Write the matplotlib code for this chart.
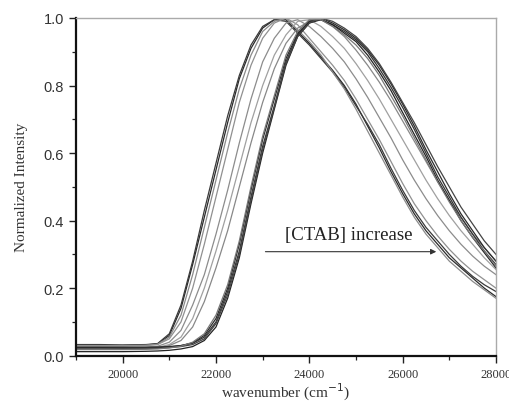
import matplotlib
matplotlib.use("Agg")
import matplotlib.pyplot as plt
from matplotlib.ticker import MultipleLocator, FormatStrFormatter

wavenumber = [19000, 19500, 20000, 20500, 20750, 21000, 21250, 21500, 21750, 22000,
              22250, 22500, 22750, 23000, 23250, 23500, 23750, 24000, 24250, 24500,
              24750, 25000, 25250, 25500, 25750, 26000, 26250, 26500, 26750, 27000,
              27250, 27500, 27750, 28000]

s01 = [.030, .030, .030, .032, .035, .06, .14, .27, .41, .55, .69, .82, .91, .97, .995, .995, .96,
       .925, .885, .845, .80, .745, .68, .615, .545, .48, .42, .37, .33, .29, .26, .23, .20, .175]
s02 = [.033, .033, .032, .033, .036, .065, .15, .28, .43, .57, .71, .83, .92, .975, .995, .99, .955,
       .92, .88, .84, .795, .74, .685, .625, .555, .49, .43, .38, .34, .30, .265, .235, .21, .19]
s03 = [.028, .028, .028, .030, .034, .055, .12, .24, .38, .52, .66, .79, .89, .96, .99, 1.0, .965,
       .93, .89, .84, .79, .73, .665, .60, .535, .47, .41, .36, .32, .28, .25, .22, .195, .17]
s04 = [.030, .030, .030, .031, .033, .05, .10, .20, .33, .47, .61, .75, .86, .94, .985, 1.0, .98,
       .94, .90, .86, .815, .76, .70, .64, .575, .51, .45, .40, .355, .315, .28, .25, .225, .20]
s05 = [.025, .025, .025, .026, .028, .04, .075, .15, .24, .36, .49, .63, .76, .87, .94, .985, .995,
       .975, .945, .91, .87, .82, .765, .705, .645, .58, .52, .465, .415, .37, .33, .295, .265, .24]
s06 = [.022, .022, .022, .023, .025, .033, .055, .11, .20, .31, .43, .56, .69, .80, .89, .95, .99,
       .995, .975, .945, .91, .865, .815, .76, .70, .64, .58, .52, .465, .415, .37, .33, .29, .255]
s07 = [.020, .020, .020, .021, .023, .03, .045, .085, .16, .26, .37, .50, .63, .75, .85, .925, .97,
       .99, .995, .975, .945, .905, .86, .81, .755, .695, .635, .575, .515, .46, .41, .36, .32, .28]
s08 = [.025, .025, .025, .025, .026, .027, .03, .037, .055, .10, .19, .31, .47, .62, .74, .87, .95,
       .99, .995, .98, .96, .935, .90, .85, .795, .735, .67, .60, .53, .47, .41, .36, .31, .27]
s09 = [.024, .024, .023, .023, .024, .026, .03, .038, .06, .11, .20, .33, .49, .64, .76, .88, .955,
       .99, 1.0, .985, .965, .94, .905, .86, .805, .745, .68, .61, .545, .48, .42, .37, .32, .28]
s10 = [.012, .012, .012, .013, .014, .016, .02, .027, .045, .085, .17, .29, .45, .60, .73, .86, .945,
       .985, .995, .98, .955, .93, .89, .84, .785, .72, .655, .59, .52, .46, .40, .35, .305, .26]
s11 = [.020, .020, .020, .021, .022, .024, .027, .033, .05, .095, .18, .30, .46, .61, .735, .865, .945,
       .985, 1.0, .99, .97, .945, .91, .865, .81, .75, .69, .625, .56, .50, .44, .39, .34, .30]
s12 = [.018, .018, .018, .019, .020, .023, .028, .04, .065, .12, .21, .34, .50, .65, .77, .89, .96,
       .995, .995, .975, .95, .92, .88, .83, .77, .71, .645, .58, .515, .455, .40, .35, .31, .265]

series = [s01, s02, s03, s04, s05, s06, s07, s08, s09, s10, s11, s12]
colors = ['#2a2a2a', '#3a3a3a', '#8a8a8a', '#909090', '#8c8c8c', '#a0a0a0',
          '#888888', '#333333', '#2a2a2a', '#222222', '#444444', '#777777']

annot_text = "[CTAB] increase"

fig = plt.figure(figsize=(5.1, 4.1), dpi=100)
ax = fig.add_axes([0.149, 0.130, 0.8235, 0.8237])

for ys, c in zip(series, colors):
    ax.plot(wavenumber, ys, color=c, lw=0.9)

ax.set_xlim(19000, 28000)
ax.set_ylim(0.0, 1.0)

ax.xaxis.set_major_locator(MultipleLocator(2000))
ax.xaxis.set_minor_locator(MultipleLocator(1000))
ax.yaxis.set_major_locator(MultipleLocator(0.2))
ax.yaxis.set_minor_locator(MultipleLocator(0.1))
ax.yaxis.set_major_formatter(FormatStrFormatter('%.1f'))

ax.tick_params(which='major', direction='out', length=5, width=1.0, color='#222222')
ax.tick_params(which='minor', direction='out', length=3, width=0.9, color='#222222')
ax.tick_params(top=False, right=False, which='both')

for lab in ax.get_yticklabels():
    lab.set_family('Liberation Sans')
    lab.set_fontsize(10.5)
    lab.set_color('#333333')
for lab in ax.get_xticklabels():
    lab.set_family('Liberation Serif')
    lab.set_fontsize(9)
    lab.set_color('#333333')

ax.spines['left'].set_linewidth(1.6)
ax.spines['bottom'].set_linewidth(1.6)
ax.spines['left'].set_color('#111111')
ax.spines['bottom'].set_color('#111111')
ax.spines['top'].set_color('#aaaaaa')
ax.spines['right'].set_color('#aaaaaa')
ax.spines['top'].set_linewidth(1.0)
ax.spines['right'].set_linewidth(1.0)

ax.set_xlabel('wavenumber (cm$^{-1}$)', family='Liberation Serif', fontsize=11,
              color='#333333', labelpad=1)
ax.set_ylabel('Normalized Intensity', family='Liberation Serif', fontsize=11,
              color='#333333', labelpad=11)

ax.text(24850, 0.36, annot_text, family='Liberation Serif', fontsize=13.5,
        ha='center', va='center', color='#222222')
ax.annotate('', xy=(26780, 0.308), xytext=(23000, 0.308),
            arrowprops=dict(arrowstyle='-|>', color='#333333', lw=0.8,
                            mutation_scale=8))

fig.savefig('out.png', dpi=100)
